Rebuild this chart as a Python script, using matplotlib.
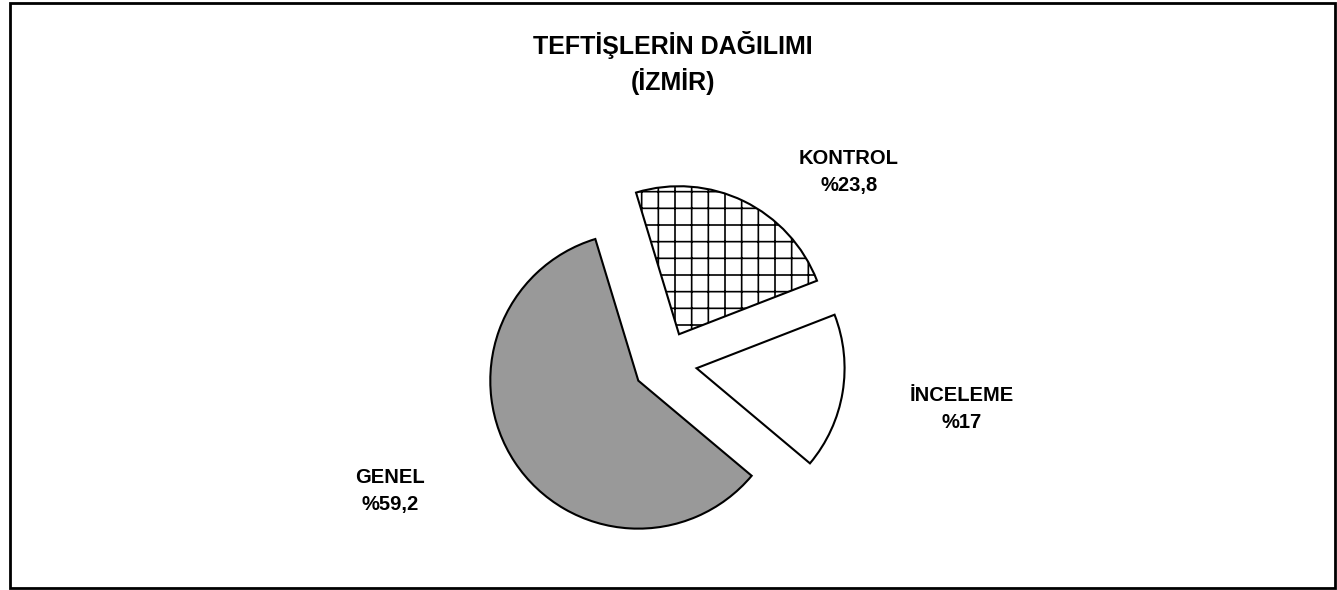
import numpy as np
import matplotlib.pyplot as plt
from matplotlib.patches import Rectangle

plt.rcParams['font.family'] = ['Liberation Sans', 'DejaVu Sans']
plt.rcParams['hatch.linewidth'] = 1.2

# data
categories = ['KONTROL', 'GENEL', 'İNCELEME']
values = [23.8, 59.2, 17]
colors = ['white', '#999999', 'white']
hatches = ['+', None, None]
title = 'TEFTİŞLERİN DAĞILIMI\n(İZMİR)'

fig = plt.figure(figsize=(13.37, 5.90), dpi=100)
ax = fig.add_axes([0, 0, 1, 1])

W, H = 1337, 590
wedges, _ = ax.pie(values, startangle=21.2, counterclock=True,
                   radius=148, center=(665, H - 363),
                   explode=[32, 32, 32], colors=colors,
                   wedgeprops=dict(edgecolor='black', linewidth=1.5))
for w, h in zip(wedges, hatches):
    if h:
        w.set_hatch(h)

# labels (same order as categories)
label_pos = [(849, 172), (390, 491), (962, 409)]
for name, v, (px, py) in zip(categories, values, label_pos):
    txt = f'{name}\n%{v:g}'.replace('.', ',')
    ax.text(px, H - py, txt, ha='center', va='center', fontsize=14.5,
            fontweight='bold', linespacing=1.55)

ax.text(673, H - 63, title, ha='center', va='center', fontsize=18,
        fontweight='bold', linespacing=1.4)

ax.set_xlim(0, W)
ax.set_ylim(0, H)
ax.set_aspect('equal')
ax.axis('off')

# outer frame
fig.patches.append(Rectangle((10 / W, 1 - 588 / H), 1325 / W, 585 / H,
                             transform=fig.transFigure, fill=False,
                             edgecolor='black', linewidth=2))

plt.savefig('out.png', dpi=100)
